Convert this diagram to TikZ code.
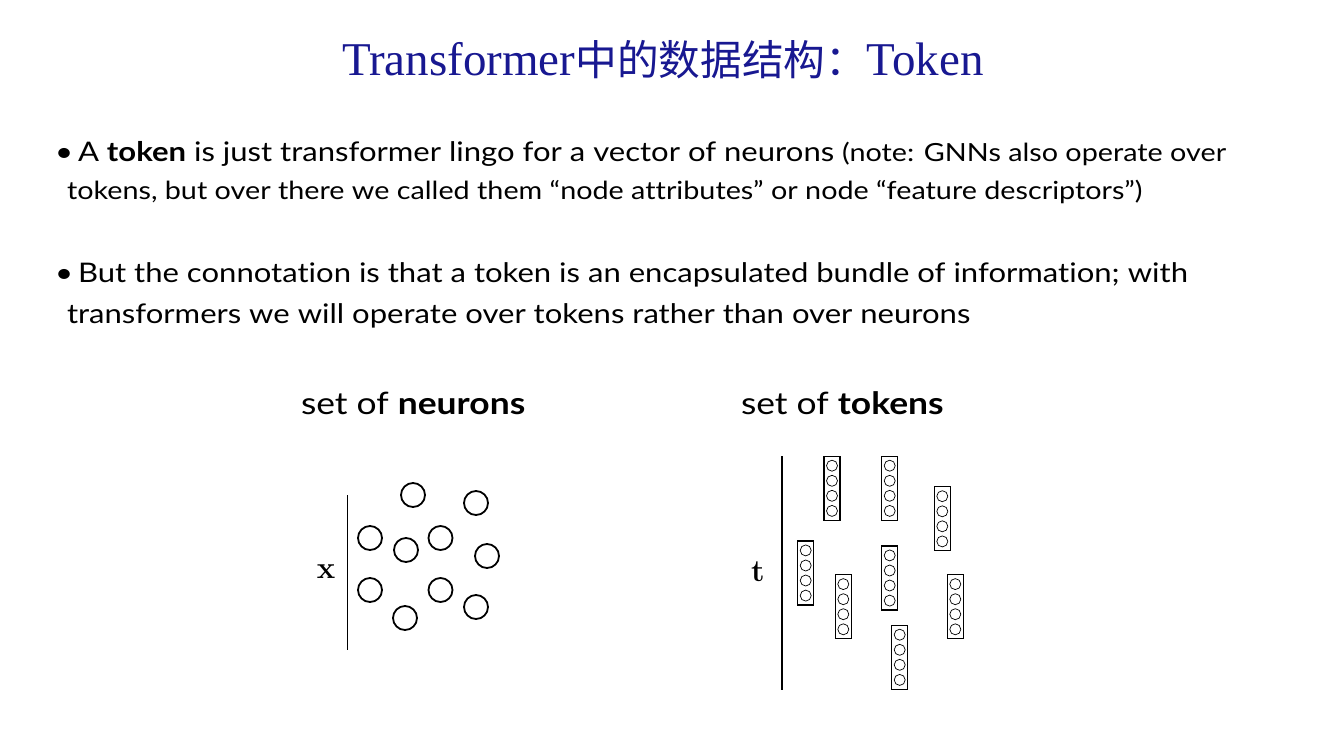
\documentclass[tikz,border=0pt]{standalone}
\usepackage{fontspec}
\setmainfont{Lato}[FakeStretch=1.15, Ligatures=NoCommon]
\newfontfamily\titlefont{Liberation Serif}
\newfontfamily\cjkfont{Noto Sans CJK SC}[Scale=0.886]
\newfontfamily\lmfont{Latin Modern Roman}
\definecolor{titleblue}{RGB}{24,24,145}
\usetikzlibrary{calc}

\tikzset{
  txt/.style={anchor=base west, inner sep=0pt, outer sep=0pt, font=\fontsize{27}{30}\selectfont},
  small/.style={font=\fontsize{25}{28}\selectfont},
  caption/.style={font=\fontsize{30.8}{33}\selectfont},
  neuron/.style={circle, draw, line width=1.8pt, minimum size=24pt, inner sep=0pt},
  tokbox/.style={draw, line width=1.3pt, minimum width=16pt, minimum height=64pt, inner sep=0pt},
  unit/.style={circle, draw, line width=0.7pt, minimum size=11pt, inner sep=0pt},
  axis/.style={line width=1.3pt},
  varlabel/.style={font=\lmfont\bfseries\fontsize{31}{31}\selectfont, inner sep=0pt}
}

% one token: a box holding four small units
\newcommand{\tokenat}[2]{%
  \node[tokbox] (#1) at (#2) {};
  \foreach \k/\dy in {1/-22.6, 2/-7.5, 3/7.5, 4/22.6}
    \node[unit] (#1u\k) at ($(#1.center)+(0,\dy)$) {};
}

\begin{document}
\begin{tikzpicture}[x=1pt,y=-1pt]
\useasboundingbox (0,0) rectangle (1333,750);
\fill[white] (0,0) rectangle (1333,750);

% title
\node[anchor=base west, inner sep=0pt, text=titleblue, font=\titlefont\fontsize{47}{50}\selectfont]
  (title) at (342,75) {Transformer{\cjkfont 中的数据结构：}Token};

% bullet points
\node[txt] (dot1) at (55,161) {\textbullet};
\node[txt] (b1a) at (78,161) {A \textbf{token} is just transformer lingo for a vector of neurons {\fontsize{25}{28}\selectfont(note: GNNs also operate over}};
\node[txt, small] (b1b) at (67,199) {tokens, but over there we called them “node attributes” or node “feature descriptors”)};
\node[txt] (dot2) at (55,282) {\textbullet};
\node[txt] (b2a) at (78,282) {But the connotation is that a token is an encapsulated bundle of information; with};
\node[txt] (b2b) at (67,323) {transformers we will operate over tokens rather than over neurons};

% captions
\node[txt, caption] (capn) at (301,414) {set of \textbf{neurons}};
\node[txt, caption] (capt) at (741,414) {set of \textbf{tokens}};

% set of neurons
\coordinate (xtop) at (347.5,495);
\coordinate (xbot) at (347.5,650);
\draw[axis] (xtop) -- (xbot);
\node[varlabel] (xlab) at (326,572) {x};
\foreach \n/\p in {1/{413,495}, 2/{476,503}, 3/{370,538}, 4/{406,550}, 5/{440.5,538},
                   6/{487,556}, 7/{370,590}, 8/{440.5,590}, 9/{405,618}, 10/{476,607}}
  \node[neuron] (n\n) at (\p) {};

% set of tokens
\coordinate (ttop) at (782,456);
\coordinate (tbot) at (782,690);
\draw[axis] (ttop) -- (tbot);
\node[varlabel] (tlab) at (758,572) {t};
\tokenat{t1}{832,488.3}
\tokenat{t2}{889.7,488.3}
\tokenat{t3}{942.3,518.8}
\tokenat{t4}{805.7,573}
\tokenat{t5}{843.3,606.7}
\tokenat{t6}{889.7,578}
\tokenat{t7}{955.3,606.7}
\tokenat{t8}{899.7,657.3}
\end{tikzpicture}
\end{document}
